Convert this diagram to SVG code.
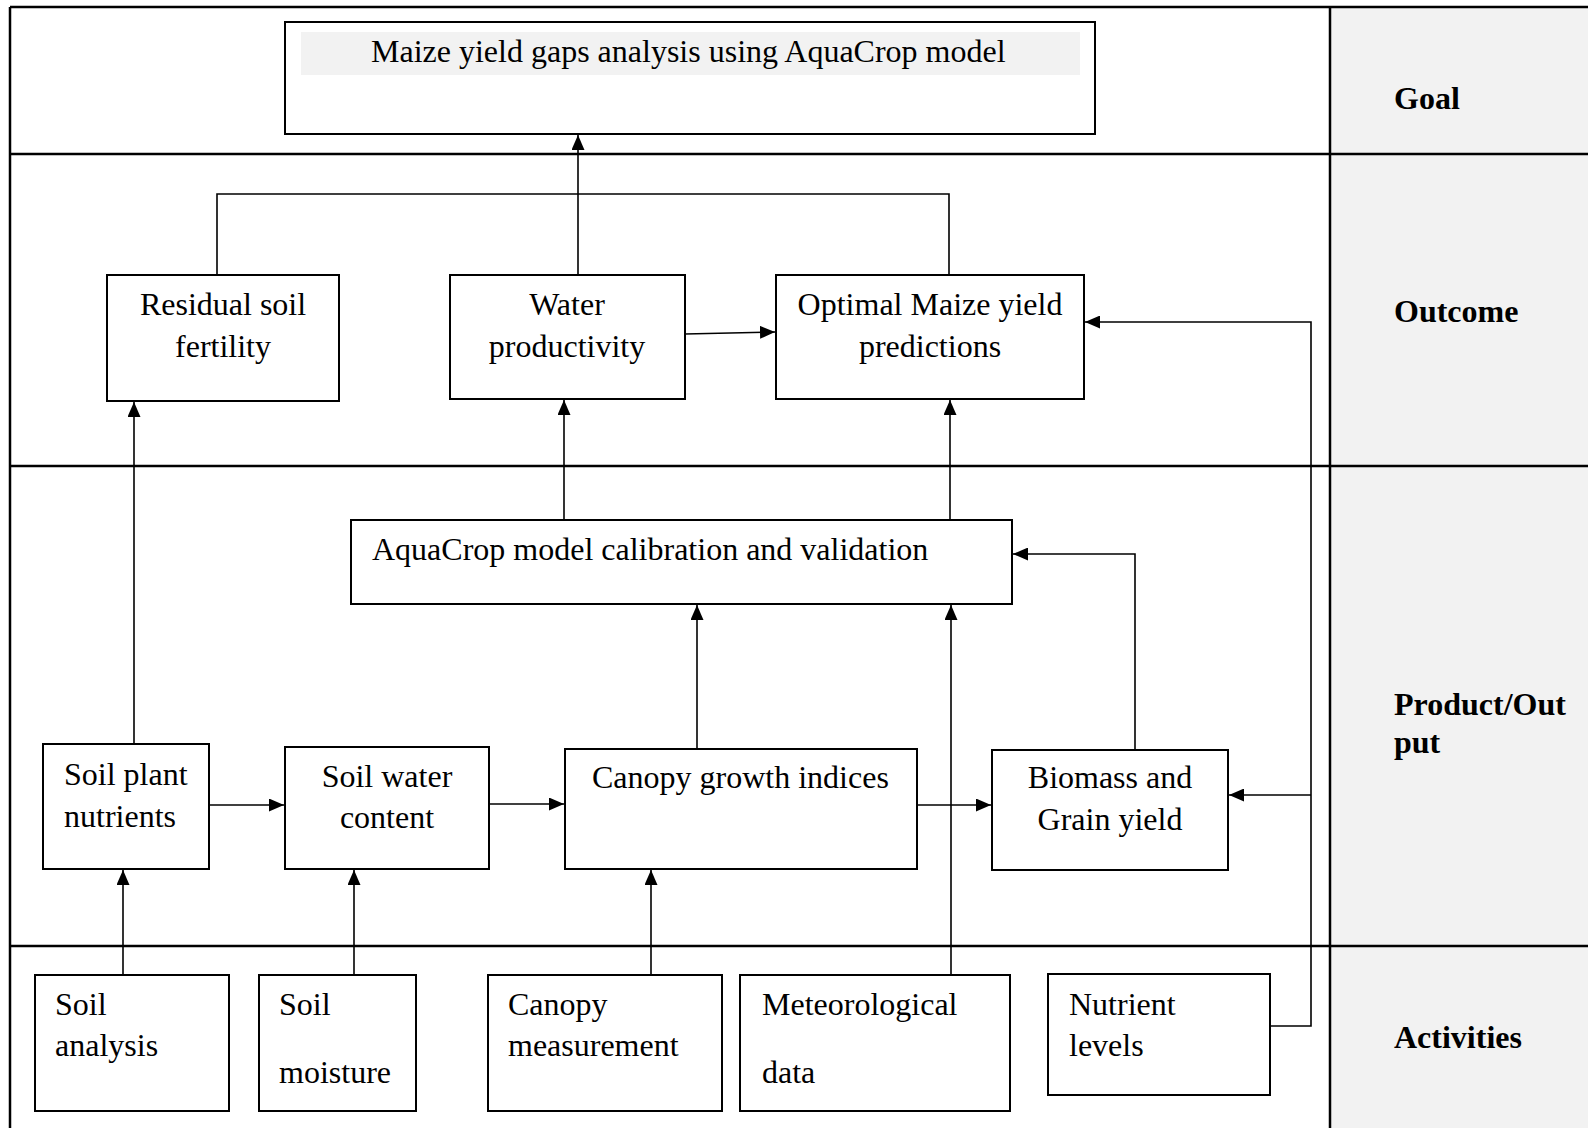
<svg xmlns="http://www.w3.org/2000/svg" width="1588" height="1128" viewBox="0 0 1588 1128">
<defs>
<style>
.t{font-family:"Liberation Serif","Times New Roman",serif;font-size:32px;fill:#000}
.b{font-family:"Liberation Serif","Times New Roman",serif;font-size:32px;font-weight:bold;fill:#000}
.box{fill:#fff;stroke:#000;stroke-width:2}
.grid{stroke:#000;stroke-width:2.5;fill:none}
.c{stroke:#000;stroke-width:1.6;fill:none}
.a{marker-end:url(#ah)}
</style>
<marker id="ah" markerUnits="userSpaceOnUse" markerWidth="15" markerHeight="13" refX="15" refY="6.5" orient="auto">
<path d="M0,0 L15,6.5 L0,13 z" fill="#000"/>
</marker>
</defs>
<rect x="0" y="0" width="1588" height="1128" fill="#fff"/>
<g id="table">
<rect x="1331" y="7" width="257" height="1121" fill="#f2f2f2"/>
<line class="grid" x1="10" y1="7" x2="1588" y2="7"/>
<line class="grid" x1="10" y1="154" x2="1588" y2="154"/>
<line class="grid" x1="10" y1="466" x2="1588" y2="466"/>
<line class="grid" x1="10" y1="946" x2="1588" y2="946"/>
<line class="grid" x1="10" y1="7" x2="10" y2="1128"/>
<line class="grid" x1="1330" y1="7" x2="1330" y2="1128"/>
<text class="b" x="1394" y="109">Goal</text>
<text class="b" x="1394" y="322">Outcome</text>
<text class="b" x="1394" y="715">Product/Out</text>
<text class="b" x="1394" y="753">put</text>
<text class="b" x="1394" y="1048">Activities</text>
</g>
<g id="connectors">
<line class="c a" x1="578" y1="275" x2="578" y2="135"/>
<polyline class="c" points="217,275 217,194 949,194 949,275"/>
<line class="c a" x1="685" y1="334" x2="775" y2="332"/>
<polyline class="c a" points="1270,1026 1311,1026 1311,322 1085,322"/>
<line class="c a" x1="1311" y1="795" x2="1229" y2="795"/>
<line class="c a" x1="134" y1="744" x2="134" y2="402"/>
<line class="c a" x1="564" y1="520" x2="564" y2="400"/>
<line class="c a" x1="950" y1="520" x2="950" y2="400"/>
<line class="c a" x1="697" y1="748" x2="697" y2="605"/>
<line class="c a" x1="951" y1="975" x2="951" y2="605"/>
<polyline class="c a" points="1135,750 1135,554 1013,554"/>
<line class="c a" x1="209" y1="805" x2="284" y2="805"/>
<line class="c a" x1="489" y1="804" x2="564" y2="804"/>
<line class="c a" x1="917" y1="805" x2="991" y2="805"/>
<line class="c a" x1="123" y1="975" x2="123" y2="870"/>
<line class="c a" x1="354" y1="975" x2="354" y2="870"/>
<line class="c a" x1="651" y1="975" x2="651" y2="870"/>
</g>
<g id="goal">
<rect class="box" x="285" y="22" width="810" height="112"/>
<rect x="301" y="32" width="779" height="43" fill="#f2f2f2"/>
<text class="t" x="371" y="62">Maize yield gaps analysis using AquaCrop model</text>
</g>
<g id="residual">
<rect class="box" x="107" y="275" width="232" height="126"/>
<text class="t" x="223" y="315" text-anchor="middle">Residual soil</text>
<text class="t" x="223" y="357" text-anchor="middle">fertility</text>
</g>
<g id="water">
<rect class="box" x="450" y="275" width="235" height="124"/>
<text class="t" x="567" y="315" text-anchor="middle">Water</text>
<text class="t" x="567" y="357" text-anchor="middle">productivity</text>
</g>
<g id="optimal">
<rect class="box" x="776" y="275" width="308" height="124"/>
<text class="t" x="930" y="315" text-anchor="middle">Optimal Maize yield</text>
<text class="t" x="930" y="357" text-anchor="middle">predictions</text>
</g>
<g id="aquacrop">
<rect class="box" x="351" y="520" width="661" height="84"/>
<text class="t" x="372" y="560">AquaCrop model calibration and validation</text>
</g>
<g id="spn">
<rect class="box" x="43" y="744" width="166" height="125"/>
<text class="t" x="64" y="785">Soil plant</text>
<text class="t" x="64" y="827">nutrients</text>
</g>
<g id="swc">
<rect class="box" x="285" y="747" width="204" height="122"/>
<text class="t" x="387" y="787" text-anchor="middle">Soil water</text>
<text class="t" x="387" y="828" text-anchor="middle">content</text>
</g>
<g id="canopy">
<rect class="box" x="565" y="749" width="352" height="120"/>
<text class="t" x="592" y="788">Canopy growth indices</text>
</g>
<g id="biomass">
<rect class="box" x="992" y="750" width="236" height="120"/>
<text class="t" x="1110" y="788" text-anchor="middle">Biomass and</text>
<text class="t" x="1110" y="830" text-anchor="middle">Grain yield</text>
</g>
<g id="soilanalysis">
<rect class="box" x="35" y="975" width="194" height="136"/>
<text class="t" x="55" y="1015">Soil</text>
<text class="t" x="55" y="1056">analysis</text>
</g>
<g id="soilmoisture">
<rect class="box" x="259" y="975" width="157" height="136"/>
<text class="t" x="279" y="1015">Soil</text>
<text class="t" x="279" y="1083">moisture</text>
</g>
<g id="canopymeas">
<rect class="box" x="488" y="975" width="234" height="136"/>
<text class="t" x="508" y="1015">Canopy</text>
<text class="t" x="508" y="1056">measurement</text>
</g>
<g id="meteo">
<rect class="box" x="740" y="975" width="270" height="136"/>
<text class="t" x="762" y="1015">Meteorological</text>
<text class="t" x="762" y="1083">data</text>
</g>
<g id="nutrient">
<rect class="box" x="1048" y="974" width="222" height="121"/>
<text class="t" x="1069" y="1015">Nutrient</text>
<text class="t" x="1069" y="1056">levels</text>
</g>
</svg>
